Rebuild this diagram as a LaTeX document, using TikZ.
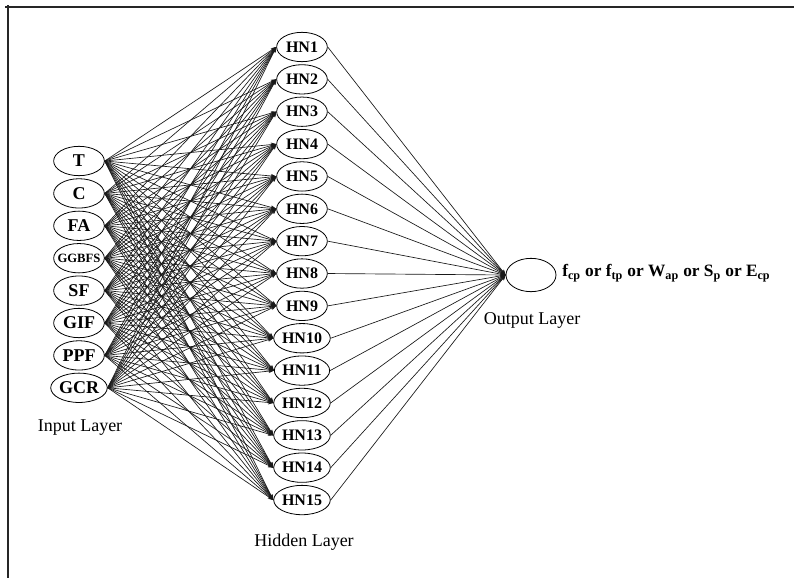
\documentclass[tikz,border=0pt]{standalone}
\usepackage{fontspec}
\setmainfont{Liberation Serif}
\usetikzlibrary{positioning, arrows.meta, shapes.geometric}

\tikzset{
  neuron/.style={ellipse, draw, line width=0.6pt, inner sep=0pt, minimum width=38pt, minimum height=22pt},
  inlbl/.style={font=\bfseries\fontsize{13.5}{15}\selectfont},
  hidlbl/.style={font=\bfseries\fontsize{12}{13}\selectfont},
  wire/.style={draw=black!90, line width=0.5pt, -{Stealth[length=4pt,width=3pt]}},
  layername/.style={font=\fontsize{13.5}{15}\selectfont}
}

\begin{document}
\begin{tikzpicture}[x=0.75pt, y=-0.75pt]
\useasboundingbox (0,0) rectangle (794,578);
% frame
\draw[line width=1.6pt, black!85] (5,7) -- (794,7);
\draw[line width=1.6pt, black!85] (8,5) -- (8,578);

% input layer
\foreach \lbl [count=\i] in {T, C, FA, {\makebox[22pt]{\fontsize{9.5}{10}\selectfont GGBFS}}, SF, GIF, PPF, GCR} {
  \node[neuron, inlbl] (inp\i) at (79, 161+32.4*\i-32.4) {\lbl};
}
% hidden layer
\foreach \i in {1,...,15} {
  \node[neuron, hidlbl] (hid\i) at (302, 47+32.36*\i-32.36) {HN\i};
}
% output layer
\node[neuron, minimum width=37.5pt, minimum height=25pt] (outp) at (531, 275) {};
\node[anchor=west, font=\bfseries\fontsize{13}{15}\selectfont, inner sep=0pt] (outtxt) at (562, 273)
  {f\textsubscript{cp} or f\textsubscript{tp} or W\textsubscript{ap} or S\textsubscript{p} or E\textsubscript{cp}};

% connections
\foreach \i in {1,...,8} {
  \foreach \j in {1,...,15} {
    \draw[wire] (inp\i.east) -- (hid\j.west);
  }
}
\foreach \j in {1,...,15} {
  \draw[wire] (hid\j.east) -- (outp.west);
}

% layer names
\node[layername] (inname) at (80, 428) {Input Layer};
\node[layername] (hidname) at (304, 542) {Hidden Layer};
\node[layername] (outname) at (532, 320) {Output Layer};
\end{tikzpicture}
\end{document}
